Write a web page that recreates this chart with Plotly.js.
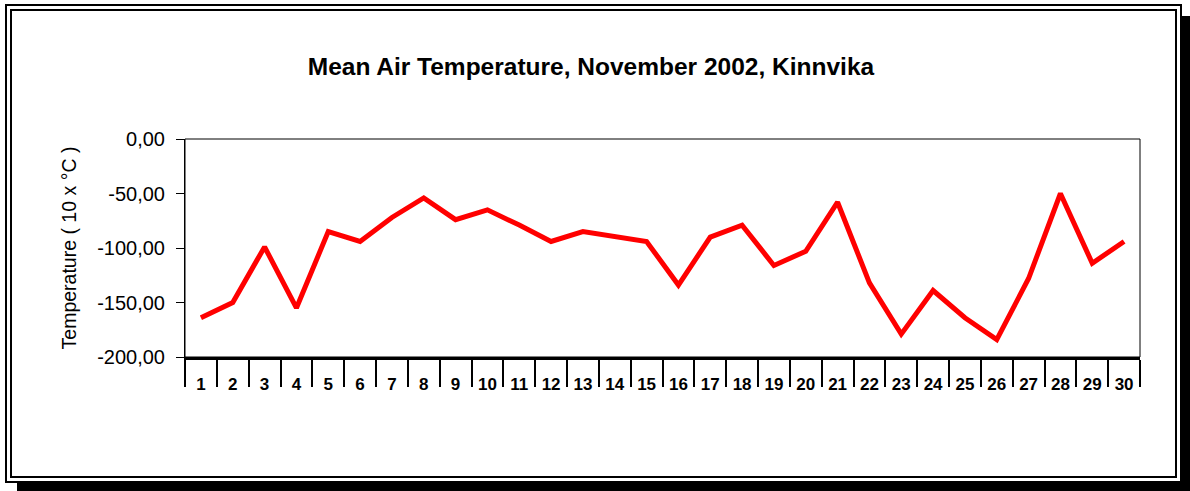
<!DOCTYPE html>
<html>
<head>
<meta charset="utf-8">
<script src="https://cdn.plot.ly/plotly-3.0.1.min.js"></script>
<style>
html, body { margin:0; padding:0; background:#fff; width:1190px; height:491px; overflow:hidden; }
#frame { position:absolute; left:5px; top:4px; width:1177px; height:479px; box-sizing:border-box;
  border:7px double #000; box-shadow:10px 10px 0 -2px #000; background:#fff; }
#chart { position:absolute; left:0; top:0; width:1190px; height:491px; }
</style>
</head>
<body>
<div id="frame"></div>
<div id="chart"></div>
<script>
const days = ["1","2","3","4","5","6","7","8","9","10","11","12","13","14","15","16","17","18","19","20","21","22","23","24","25","26","27","28","29","30"];
const meanTemp = [-164,-150,-99,-155,-85,-94,-72,-54,-74,-65,-79,-94,-85,-90,-94,-134,-90,-79,-116,-103,-58,-132,-179,-139,-164,-184,-128,-50,-114,-94];
const yTickVals = [0,-50,-100,-150,-200];
const yTickText = ["0,00","-50,00","-100,00","-150,00","-200,00"];

const trace = {
  x: days, y: meanTemp, type:'scatter', mode:'lines',
  line:{color:'#FF0000', width:5}, hoverinfo:'x+y'
};

const layout = {
  width:1190, height:491,
  margin:{l:185, r:50, t:139, b:134},
  paper_bgcolor:'rgba(0,0,0,0)', plot_bgcolor:'#fff',
  showlegend:false,
  font:{family:'Arial, Liberation Sans, sans-serif', color:'#000'},
  title:{text:'<b>Mean Air Temperature, November 2002, Kinnvika</b>', font:{size:24.5, family:'Arial, Liberation Sans, sans-serif', color:'#000'},
    x:0.4966, xref:'container', xanchor:'center', y:1-66/491, yref:'container', yanchor:'middle'},
  xaxis:{type:'category', range:[-0.5, days.length-0.5], tickson:'boundaries', ticks:'outside', ticklen:27, tickwidth:2, tickcolor:'#000',
    showline:true, linewidth:3, linecolor:'#000', showgrid:false, zeroline:false,
    tickfont:{size:17, family:'Arial, Liberation Sans, sans-serif', color:'#000', weight:'bold'},
    ticklabelstandoff:10, fixedrange:true},
  yaxis:{range:[-200,0], tickvals:yTickVals, ticktext:yTickText, ticks:'outside', ticklen:8, tickwidth:1, tickcolor:'#000',
    showline:true, linewidth:1, linecolor:'#000', showgrid:false, zeroline:false,
    tickfont:{size:20, family:'Arial, Liberation Sans, sans-serif', color:'#000'},
    ticklabelstandoff:7,
    title:{text:'Temperature ( 10 x °C )', font:{size:19.5, family:'Liberation Sans Narrow, Arial Narrow, Arial, sans-serif', color:'#000'}, standoff:15},
    fixedrange:true},
  shapes:[{type:'rect', xref:'paper', yref:'paper', x0:0, x1:1, y0:0, y1:1, line:{color:'#000', width:1}, layer:'below'}]
};

Plotly.newPlot('chart', [trace], layout, {displayModeBar:false, staticPlot:true});
</script>
</body>
</html>
